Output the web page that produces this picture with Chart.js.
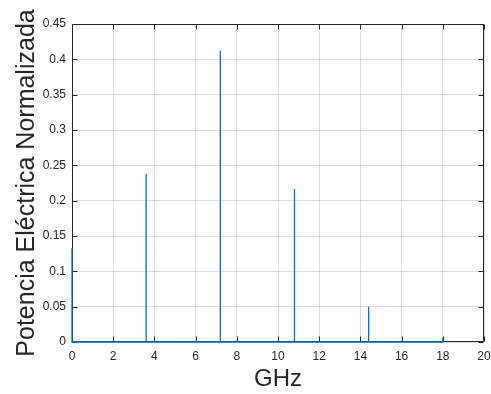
<!DOCTYPE html>
<html>
<head>
<meta charset="utf-8">
<script src="https://cdn.jsdelivr.net/npm/chart.js@4/dist/chart.umd.min.js"></script>
<style>
html,body{margin:0;padding:0;background:#fff;}
#wrap{width:491px;height:394px;}
</style>
</head>
<body>
<div id="wrap"><canvas id="c" width="491" height="394"></canvas></div>
<script>
// Spectral lines (GHz) and normalized electric power
const freqsGHz = [0, 3.6, 7.2, 10.8, 14.4, 18];
const power = [0.1325, 0.2377, 0.412, 0.2165, 0.05, 0.006];
const xTickValues = [0, 2, 4, 6, 8, 10, 12, 14, 16, 18, 20];
const yTickValues = [0, 0.05, 0.1, 0.15, 0.2, 0.25, 0.3, 0.35, 0.4, 0.45];
const xTitle = 'GHz';
const yTitle = 'Potencia Eléctrica Normalizada';

// Build a stem-like line path: baseline → spike → baseline
const pts = [];
freqsGHz.forEach((f, i) => {
  if (i > 0) pts.push({x: f, y: 0});
  pts.push({x: f, y: power[i]});
  if (i < freqsGHz.length - 1) pts.push({x: f, y: 0});
});

const FONT = "'Liberation Sans', Arial, Helvetica, sans-serif";
const AX = '#262626';

const boxPlugin = {
  id: 'box',
  beforeDatasetsDraw(chart) {
    const {ctx, chartArea: a, scales} = chart;
    const L = Math.round(a.left) + 0.5, R = Math.round(a.right) - 0.5;
    const T = Math.round(a.top) + 0.5, B = Math.round(a.bottom) - 0.5;
    ctx.save();
    ctx.strokeStyle = AX;
    ctx.lineWidth = 1;
    ctx.beginPath();
    ctx.rect(L, T, R - L, B - T);
    const tl = 5;
    xTickValues.forEach(v => {
      const px = Math.round(scales.x.getPixelForValue(v)) + 0.5;
      ctx.moveTo(px, B); ctx.lineTo(px, B - tl);
      ctx.moveTo(px, T); ctx.lineTo(px, T + tl);
    });
    yTickValues.forEach(v => {
      const py = Math.round(scales.y.getPixelForValue(v)) + 0.5;
      ctx.moveTo(L, py); ctx.lineTo(L + tl, py);
      ctx.moveTo(R, py); ctx.lineTo(R - tl, py);
    });
    ctx.stroke();
    ctx.restore();
  }
};

new Chart(document.getElementById('c'), {
  type: 'line',
  data: {
    datasets: [{
      data: pts,
      borderColor: '#0072BD',
      borderWidth: 1.3,
      pointRadius: 0,
      tension: 0,
      fill: false,
      clip: 4
    }]
  },
  options: {
    responsive: false,
    animation: false,
    events: [],
    layout: {padding: {left: 0, right: 7, top: 24, bottom: 0}},
    plugins: {legend: {display: false}, tooltip: {enabled: false}},
    scales: {
      x: {
        type: 'linear',
        min: 0, max: 20,
        afterBuildTicks: s => { s.ticks = xTickValues.map(v => ({value: v})); },
        afterFit: s => { s.height = 52; s.paddingRight = 0; s.paddingLeft = 0; },
        grid: {color: 'rgba(38,38,38,0.15)', lineWidth: 1, drawTicks: false},
        border: {display: false},
        ticks: {color: AX, font: {family: FONT, size: 12}, padding: 7, maxRotation: 0,
                callback: v => String(v)},
        title: {display: true, text: xTitle, color: AX, font: {family: FONT, size: 24},
                padding: {top: 0, bottom: 0}}
      },
      y: {
        type: 'linear',
        min: 0, max: 0.45,
        afterBuildTicks: s => { s.ticks = yTickValues.map(v => ({value: v})); },
        afterFit: s => { s.width = 72; s.paddingTop = 0; s.paddingBottom = 0; },
        grid: {color: 'rgba(38,38,38,0.15)', lineWidth: 1, drawTicks: false},
        border: {display: false},
        ticks: {color: AX, font: {family: FONT, size: 12}, padding: 6,
                callback: v => String(+v.toFixed(2))},
        title: {display: true, text: yTitle, color: AX, font: {family: FONT, size: 25},
                padding: {top: 12, bottom: 0}}
      }
    }
  },
  plugins: [boxPlugin]
});
</script>
</body>
</html>
